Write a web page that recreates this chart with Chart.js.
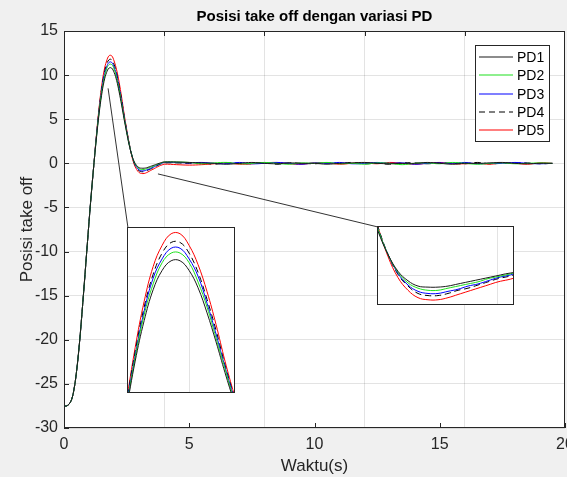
<!DOCTYPE html>
<html>
<head>
<meta charset="utf-8">
<script src="https://cdn.jsdelivr.net/npm/chart.js@4.4.1/dist/chart.umd.min.js"></script>
<style>
  html, body { margin: 0; padding: 0; background: #f0f0f0; overflow: hidden; }
  #wrap { position: relative; width: 567px; height: 477px; overflow: hidden; }
  #main { position: absolute; left: 0; top: 0; }
  .inset { position: absolute; background: #fff; border: 1px solid #262626; box-sizing: border-box; }
  .inset canvas { display: block; }
</style>
</head>
<body>
<div id="wrap">
  <canvas id="main" width="600" height="477"></canvas>
  <div class="inset" id="boxKiri" style="left:127px; top:227px; width:108px; height:166px;">
    <canvas id="kiri" width="106" height="164"></canvas>
  </div>
  <div class="inset" id="boxKanan" style="left:377px; top:226px; width:137px; height:79px;">
    <canvas id="kanan" width="135" height="77"></canvas>
  </div>
</div>
<script>
// Waktu (s)
const waktu = [0, 0.1, 0.2, 0.3, 0.4, 0.5, 0.6, 0.7, 0.8, 0.9,
  1.0, 1.1, 1.2, 1.3, 1.4, 1.5, 1.6, 1.7, 1.8, 1.9,
  2.0, 2.1, 2.2, 2.3, 2.4, 2.5, 2.6, 2.7, 2.8, 2.9,
  3.0, 3.1, 3.2, 3.3, 3.4, 3.5, 3.6, 3.7, 3.8, 3.9,
  4.0, 4.5, 5.0, 5.5, 6.0, 6.5, 7.0, 7.5, 8.0, 8.5,
  9.0, 9.5, 10.0, 10.5, 11.0, 11.5, 12.0, 12.5, 13.0, 13.5,
  14.0, 14.5, 15.0, 15.5, 16.0, 16.5, 17.0, 17.5, 18.0, 18.5,
  19.0, 19.5];

// Posisi take off tiap variasi PD
const pd1 = [-27.5, -27.5, -27.3, -26.8, -25.6, -23.6, -20.9, -17.6, -14.0, -10.3,
  -6.6, -3.1, 0.1, 3.0, 5.6, 7.7, 9.3, 10.3, 10.8, 10.8,
  10.3, 9.4, 8.1, 6.6, 5.0, 3.5, 2.1, 1.0, 0.2, -0.25,
  -0.5, -0.55, -0.55, -0.5, -0.4, -0.3, -0.2, -0.1, 0.0, 0.1,
  0.15, 0.15, 0.1, 0.05, 0.0, -0.1, 0.0, 0.1, 0.0, -0.05,
  0.05, 0.0, 0.0, -0.1, 0.0, 0.05, 0.1, 0.0, -0.05, 0.0,
  0.0, 0.1, 0.0, -0.1, 0.0, 0.0, 0.05, 0.1, 0.0, -0.05,
  0.0, 0.0];
const pd2 = [-27.5, -27.5, -27.3, -26.8, -25.6, -23.6, -20.9, -17.6, -14.0, -10.3,
  -6.6, -3.1, 0.1, 3.1, 5.8, 8.0, 9.6, 10.7, 11.2, 11.2,
  10.7, 9.7, 8.4, 6.8, 5.2, 3.6, 2.2, 1.0, 0.15, -0.35,
  -0.6, -0.7, -0.7, -0.6, -0.5, -0.4, -0.3, -0.15, -0.05, 0.05,
  0.15, 0.15, 0.1, -0.05, 0.05, 0.1, -0.05, 0.0, 0.1, 0.0,
  -0.1, 0.05, 0.0, 0.1, -0.05, 0.0, -0.1, 0.05, 0.0, -0.15,
  0.0, 0.05, -0.05, 0.1, 0.0, -0.1, 0.0, 0.05, -0.05, 0.0,
  0.05, 0.0];
const pd3 = [-27.5, -27.5, -27.3, -26.8, -25.6, -23.6, -20.9, -17.6, -14.0, -10.3,
  -6.6, -3.1, 0.1, 3.2, 5.9, 8.2, 9.9, 10.9, 11.45, 11.45,
  10.9, 10.0, 8.6, 7.0, 5.3, 3.7, 2.2, 1.0, 0.1, -0.45,
  -0.75, -0.85, -0.85, -0.75, -0.65, -0.5, -0.4, -0.25, -0.1, 0.0,
  0.1, 0.1, 0.05, 0.1, 0.0, -0.05, 0.1, -0.05, 0.0, 0.1,
  0.0, -0.1, 0.05, 0.0, 0.1, -0.05, 0.0, 0.1, 0.0, 0.05,
  -0.1, 0.0, 0.05, 0.0, 0.1, -0.05, 0.0, 0.0, 0.1, 0.0,
  -0.05, 0.0];
const pd4 = [-27.5, -27.5, -27.3, -26.8, -25.6, -23.6, -20.9, -17.6, -14.0, -10.3,
  -6.6, -3.1, 0.1, 3.3, 6.1, 8.4, 10.1, 11.2, 11.75, 11.75,
  11.2, 10.2, 8.8, 7.2, 5.4, 3.8, 2.3, 1.0, 0.05, -0.5,
  -0.85, -0.95, -0.95, -0.85, -0.7, -0.6, -0.45, -0.3, -0.15, -0.05,
  0.05, 0.05, 0.0, 0.05, -0.1, 0.05, 0.0, -0.05, 0.1, -0.1,
  0.05, 0.0, -0.05, 0.05, 0.0, 0.1, -0.05, 0.0, -0.1, 0.05,
  0.05, -0.05, 0.05, 0.0, -0.05, 0.1, -0.05, 0.0, 0.05, 0.05,
  -0.05, 0.0];
const pd5 = [-27.5, -27.5, -27.3, -26.8, -25.6, -23.6, -20.9, -17.6, -14.0, -10.3,
  -6.6, -3.1, 0.1, 3.4, 6.3, 8.7, 10.5, 11.6, 12.2, 12.2,
  11.6, 10.6, 9.2, 7.5, 5.6, 3.9, 2.3, 0.9, -0.1, -0.7,
  -1.05, -1.15, -1.15, -1.05, -0.9, -0.75, -0.6, -0.45, -0.3, -0.2,
  -0.1, -0.15, -0.2, -0.15, -0.05, 0.05, -0.1, -0.05, 0.05, 0.1,
  -0.05, -0.1, 0.05, 0.05, -0.1, 0.0, 0.05, -0.05, 0.1, 0.0,
  -0.1, 0.0, 0.1, -0.05, -0.05, 0.0, -0.1, 0.05, 0.0, -0.1,
  0.05, 0.0];

const labelSeri = ['PD1', 'PD2', 'PD3', 'PD4', 'PD5'];
const warnaSeri = ['#1a1a1a', '#1ee01e', '#0000ff', '#000000', '#ff0000'];
const dashSeri = [[], [], [], [6, 4], []];
const semuaSeri = [pd1, pd2, pd3, pd4, pd5];

// Tick dan grid
const xTicks = [0, 5, 10, 15, 20];
const yTicks = [-30, -25, -20, -15, -10, -5, 0, 5, 10, 15];
const gridX = [4, 8, 12, 16];

// Inset (zoom)
const kiriX = [1.32, 2.5], kiriY = [4, 12.5];
const kananX = [2.6, 3.95], kananY = [-1.35, 2.3];
const kiriGridX = [2], kiriGridY = [10];
const kananGridX = [3.8], kananGridY = [0];
// garis penghubung: titik awal (data) -> kotak inset
const penghubung = [
  { dari: [1.76, 8.5], ke: 'boxKiri' },
  { dari: [3.75, -1.2], ke: 'boxKanan' }
];

const warnaGrid = 'rgba(38,38,38,0.13)';
const warnaAxis = '#262626';
Chart.defaults.font.family = '"Liberation Sans", Arial, Helvetica, sans-serif';
Chart.defaults.color = warnaAxis;

function buatDatasets() {
  return semuaSeri.map((seri, i) => ({
    label: labelSeri[i],
    data: waktu.map((t, j) => ({ x: t, y: seri[j] })),
    borderColor: warnaSeri[i],
    borderDash: dashSeri[i],
    borderWidth: 1,
    pointRadius: 0,
    tension: 0.4,
    fill: false
  }));
}

function setTicks(arr) {
  return s => { s.ticks = arr.map(v => ({ value: v })); };
}

const hiasanUtama = {
  id: 'hiasanUtama',
  beforeDraw(chart) {
    const { ctx, chartArea: a } = chart;
    ctx.save();
    ctx.fillStyle = '#ffffff';
    ctx.fillRect(a.left, a.top, a.right - a.left, a.bottom - a.top);
    ctx.restore();
  },
  afterDraw(chart) {
    const { ctx, chartArea: a, scales } = chart;
    ctx.save();
    ctx.strokeStyle = warnaAxis;
    ctx.lineWidth = 1;
    ctx.strokeRect(a.left + 0.5, a.top + 0.5, a.right - a.left - 1, a.bottom - a.top - 1);

    // tick ke dalam
    ctx.beginPath();
    xTicks.forEach(v => {
      const px = Math.round(scales.x.getPixelForValue(v)) + 0.5;
      ctx.moveTo(px, a.bottom); ctx.lineTo(px, a.bottom - 5);
    });
    gridX.forEach(v => {
      const px = Math.round(scales.x.getPixelForValue(v)) + 0.5;
      ctx.moveTo(px, a.top); ctx.lineTo(px, a.top + 5);
    });
    yTicks.forEach(v => {
      const py = Math.round(scales.y.getPixelForValue(v)) + 0.5;
      ctx.moveTo(a.left, py); ctx.lineTo(a.left + 5, py);
    });
    ctx.stroke();

    // garis penghubung ke inset
    ctx.strokeStyle = '#333';
    ctx.beginPath();
    penghubung.forEach(p => {
      const box = document.getElementById(p.ke);
      ctx.moveTo(scales.x.getPixelForValue(p.dari[0]), scales.y.getPixelForValue(p.dari[1]));
      ctx.lineTo(box.offsetLeft + 1, box.offsetTop + 1);
    });
    ctx.stroke();

    // legenda
    const lw = 74, lh = 96;
    const lx = a.right - 90, ly = a.top + 14;
    ctx.fillStyle = '#fff';
    ctx.fillRect(lx, ly, lw, lh);
    ctx.strokeStyle = warnaAxis;
    ctx.strokeRect(lx + 0.5, ly + 0.5, lw, lh);
    ctx.font = '14px "Liberation Sans", Arial, sans-serif';
    ctx.textBaseline = 'middle';
    ctx.textAlign = 'left';
    labelSeri.forEach((nama, i) => {
      const yy = Math.round(ly + 12 + i * 18.3);
      ctx.strokeStyle = warnaSeri[i];
      ctx.lineWidth = 1.2;
      ctx.setLineDash(dashSeri[i]);
      ctx.beginPath();
      ctx.moveTo(lx + 4, yy);
      ctx.lineTo(lx + 38, yy);
      ctx.stroke();
      ctx.setLineDash([]);
      ctx.fillStyle = '#000';
      ctx.fillText(nama, lx + 42, yy + 1);
    });
    ctx.restore();
  }
};

new Chart(document.getElementById('main'), {
  type: 'line',
  data: { datasets: buatDatasets() },
  options: {
    responsive: false,
    animation: false,
    layout: { padding: { left: 0, right: 35, top: 0, bottom: 0 } },
    plugins: {
      legend: { display: false },
      tooltip: { enabled: false },
      title: {
        display: true,
        text: 'Posisi take off dengan variasi PD',
        fullSize: false,
        color: '#000',
        font: { size: 15, weight: 'bold' },
        padding: { top: 8, bottom: 5 }
      }
    },
    scales: {
      x: {
        type: 'linear', min: 0, max: 20,
        afterBuildTicks: setTicks(xTicks),
        afterFit: s => { s.height = 49; },
        grid: { display: false, drawTicks: false },
        border: { display: false },
        ticks: { font: { size: 16 }, padding: 7, maxRotation: 0 },
        title: { display: true, text: 'Waktu(s)', font: { size: 17 }, padding: { top: 0, bottom: 0 } }
      },
      xg: {
        type: 'linear', position: 'top', min: 0, max: 20,
        afterBuildTicks: setTicks(gridX),
        grid: { color: warnaGrid, drawTicks: false },
        border: { display: false },
        ticks: { display: false }
      },
      y: {
        min: -30, max: 15,
        afterBuildTicks: setTicks(yTicks),
        afterFit: s => { s.width = 64; },
        grid: { color: warnaGrid, drawTicks: false },
        border: { display: false },
        ticks: { font: { size: 16 }, padding: 6 },
        title: { display: true, text: 'Posisi take off', font: { size: 17 }, padding: { top: 17, bottom: 0 } }
      }
    }
  },
  plugins: [hiasanUtama]
});

function buatInset(id, rx, ry, gx, gy) {
  return new Chart(document.getElementById(id), {
    type: 'line',
    data: { datasets: buatDatasets() },
    options: {
      responsive: false,
      animation: false,
      layout: { padding: 0 },
      plugins: { legend: { display: false }, tooltip: { enabled: false } },
      scales: {
        x: {
          type: 'linear', min: rx[0], max: rx[1],
          afterBuildTicks: setTicks(gx),
          grid: { color: warnaGrid, drawTicks: false },
          border: { display: false },
          ticks: { display: false }
        },
        y: {
          min: ry[0], max: ry[1],
          afterBuildTicks: setTicks(gy),
          grid: { color: warnaGrid, drawTicks: false },
          border: { display: false },
          ticks: { display: false }
        }
      }
    }
  });
}

buatInset('kiri', kiriX, kiriY, kiriGridX, kiriGridY);
buatInset('kanan', kananX, kananY, kananGridX, kananGridY);
</script>
</body>
</html>
